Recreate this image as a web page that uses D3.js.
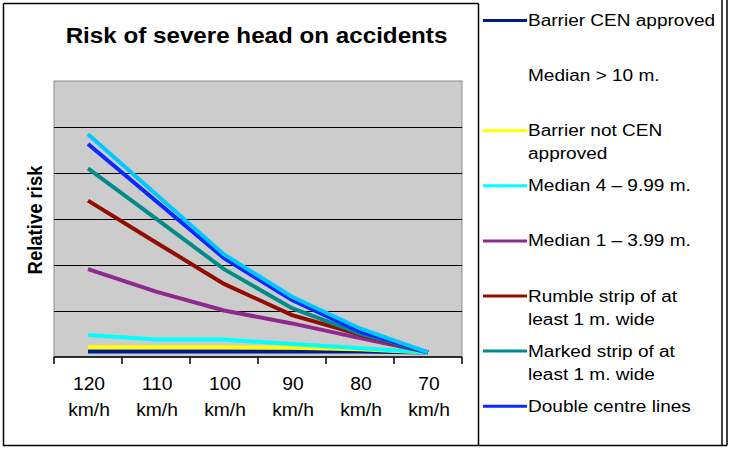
<!DOCTYPE html>
<html>
<head>
<meta charset="utf-8">
<script src="https://cdn.jsdelivr.net/npm/d3@7"></script>
<style>
  body { margin: 0; background: #fff; }
  text { font-family: Arial, "Liberation Sans", sans-serif; fill: #000; }
</style>
</head>
<body>
<div id="chart"></div>
<script>
const speeds = ["120", "110", "100", "90", "80", "70"];
const unit = "km/h";

const barrierCen    = [0.12, 0.12, 0.12, 0.12, 0.12, 0.10];
const medianOver10  = [];
const barrierNotCen = [0.21, 0.21, 0.21, 0.20, 0.17, 0.10];
const median4       = [0.48, 0.38, 0.38, 0.28, 0.19, 0.10];
const median1       = [1.91, 1.42, 1.01, 0.73, 0.41, 0.10];
const rumbleStrip   = [3.40, 2.49, 1.59, 0.91, 0.49, 0.10];
const markedStrip   = [4.10, 3.01, 1.91, 1.06, 0.51, 0.10];
const doubleCentre  = [4.63, 3.39, 2.15, 1.24, 0.55, 0.10];
const unlabelled    = [4.84, 3.54, 2.23, 1.31, 0.62, 0.10];

const series = [
  { name: ["Barrier CEN approved"], values: barrierCen, color: "#001a8c" },
  { name: ["Median > 10 m."], values: medianOver10, color: null },
  { name: ["Barrier not CEN", "approved"], values: barrierNotCen, color: "#ffff00" },
  { name: ["Median 4 \u2013 9.99 m."], values: median4, color: "#00ffff" },
  { name: ["Median 1 \u2013 3.99 m."], values: median1, color: "#8e2a8e" },
  { name: ["Rumble strip of at", "least 1 m. wide"], values: rumbleStrip, color: "#920c00" },
  { name: ["Marked strip of at", "least 1 m. wide"], values: markedStrip, color: "#008c88" },
  { name: ["Double centre lines"], values: doubleCentre, color: "#0a28ff" },
  { name: null, values: unlabelled, color: "#00c8ff" }
];

const W = 731, H = 449;
const SX = 1.1; // text in the source is a bit wider than normal
const plot = { left: 54, right: 462, top: 81, bottom: 357 };

const svg = d3.select("#chart").append("svg")
  .attr("width", W).attr("height", H);

// frame
const frame = svg.append("g").attr("stroke", "#000").attr("stroke-width", 1.5).attr("fill", "none");
frame.append("path").attr("d", "M3.5,3.5 H478.5 M3.5,3.5 V445.5 H727 M478.5,3.5 V445.5 M722,0 V445.5 M727,0 V445.5");

function stretchedText(g, x, y, str) {
  return g.append("text")
    .attr("transform", `translate(${x},${y}) scale(${SX},1)`)
    .text(str);
}

// title
stretchedText(svg, 256.5, 43, "Risk of severe head on accidents")
  .attr("text-anchor", "middle")
  .attr("font-size", 22)
  .attr("font-weight", "bold");

const x = d3.scaleBand().domain(speeds).range([plot.left, plot.right]);
const y = d3.scaleLinear().domain([0, 6]).range([plot.bottom, plot.top]);

svg.append("rect")
  .attr("x", plot.left).attr("y", plot.top)
  .attr("width", plot.right - plot.left).attr("height", plot.bottom - plot.top)
  .attr("fill", "#cccccc").attr("stroke", "#8c8c8c").attr("stroke-width", 1);

svg.append("g")
  .selectAll("line")
  .data(y.ticks(6).filter(d => d > 0 && d < 6))
  .join("line")
  .attr("x1", plot.left).attr("x2", plot.right)
  .attr("y1", d => Math.round(y(d)) + 0.5).attr("y2", d => Math.round(y(d)) + 0.5)
  .attr("stroke", "#000").attr("stroke-width", 1);

// x axis with ticks at band edges
const xAxis = svg.append("g").attr("transform", `translate(0,${plot.bottom})`);
xAxis.append("line").attr("x1", plot.left).attr("x2", plot.right)
  .attr("stroke", "#000").attr("stroke-width", 1.5);
const edges = speeds.map(s => x(s)).concat([plot.right]);
xAxis.selectAll(".tick").data(edges).join("line")
  .attr("class", "tick")
  .attr("x1", d => d).attr("x2", d => d)
  .attr("y1", 0).attr("y2", 7)
  .attr("stroke", "#000").attr("stroke-width", 1.5);

speeds.forEach(s => {
  const cx = x(s) + x.bandwidth() / 2 + 1;
  stretchedText(svg, cx, 390, s).attr("text-anchor", "middle").attr("font-size", 17.5);
  stretchedText(svg, cx, 416, unit).attr("text-anchor", "middle").attr("font-size", 17.5);
});

// y label
svg.append("text")
  .attr("transform", `translate(42,220) scale(${SX},1) rotate(-90)`)
  .attr("text-anchor", "middle")
  .attr("font-size", 18.5)
  .attr("font-weight", "bold")
  .text("Relative risk");

// lines
const line = d3.line()
  .x((d, i) => x(speeds[i]) + x.bandwidth() / 2)
  .y(d => y(d));

svg.append("g")
  .selectAll("path")
  .data(series.filter(s => s.color && s.values.length))
  .join("path")
  .attr("d", s => line(s.values))
  .attr("fill", "none")
  .attr("stroke", s => s.color)
  .attr("stroke-width", 4);

// legend
const legend = svg.append("g");
const legendItems = series.filter(s => s.name);
legendItems.forEach((s, i) => {
  const base = 26 + i * 55.1;
  if (s.color) {
    legend.append("line")
      .attr("x1", 483).attr("x2", 527)
      .attr("y1", base - 5.5).attr("y2", base - 5.5)
      .attr("stroke", s.color).attr("stroke-width", 3);
  }
  s.name.forEach((t, j) => {
    stretchedText(legend, 528, base + j * 23, t).attr("font-size", 17.3);
  });
});
</script>
</body>
</html>
